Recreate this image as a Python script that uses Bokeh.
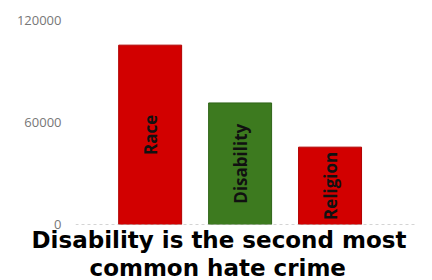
import math
from bokeh.plotting import figure
from bokeh.models import ColumnDataSource, FixedTicker, Title, Range1d, Span, NumeralTickFormatter
from bokeh.core.properties import value
from bokeh.embed import file_html
from bokeh.resources import INLINE

categories = ["Race", "Disability", "Religion"]
counts = [105500, 71500, 45500]
colors = ["#d20000", "#3d7a1f", "#d20000"]
outline = ["#b00000", "#2f6418", "#b00000"]
y_ticks = [0, 60000, 120000]
title_lines = ["Disability is the second most", "common hate crime"]
title_offsets = [-44, 14]

xs = [i + 1 for i in range(len(categories))]
src = ColumnDataSource(dict(x=xs, top=counts, mid=[c / 2 for c in counts],
                            label=categories, color=colors, line=outline))

p = figure(width=432, height=280, output_backend="svg", toolbar_location=None,
           x_range=Range1d(0.17, 3.95), y_range=Range1d(0, 120000),
           min_border_left=75, min_border_right=17, min_border_top=20, min_border_bottom=0)

p.vbar(x="x", top="top", width=0.7, source=src, fill_color="color", line_color="line", line_width=1)
p.text(x="x", y="mid", text="label", source=src, angle=math.pi / 2,
       text_align="center", text_baseline="middle", text_color="#111111",
       text_font=value("Open Sans"), text_font_style="bold", text_font_size="17px")

p.add_layout(Span(location=0, dimension="width", line_color="#aaaaaa",
                  line_dash="3 3", line_width=1))

p.xgrid.visible = False
p.ygrid.visible = False
p.outline_line_color = None
p.xaxis.visible = False

p.yaxis.ticker = FixedTicker(ticks=y_ticks)
p.yaxis.formatter = NumeralTickFormatter(format="0")
p.yaxis.axis_line_color = None
p.yaxis.major_tick_line_color = None
p.yaxis.minor_tick_line_color = None
p.yaxis.major_label_text_color = "#777777"
p.yaxis.major_label_text_font = "Open Sans"
p.yaxis.major_label_text_font_size = "13px"
p.yaxis.major_label_standoff = 8

for line, off in zip(title_lines, title_offsets):
    p.add_layout(Title(text=line, align="left", text_font="DejaVu Sans",
                       text_font_style="bold", text_font_size="23px",
                       text_line_height=1.0,
                       text_color="#000000", standoff=0, offset=off), "below")

open("out.html", "w").write(file_html(p, INLINE))
